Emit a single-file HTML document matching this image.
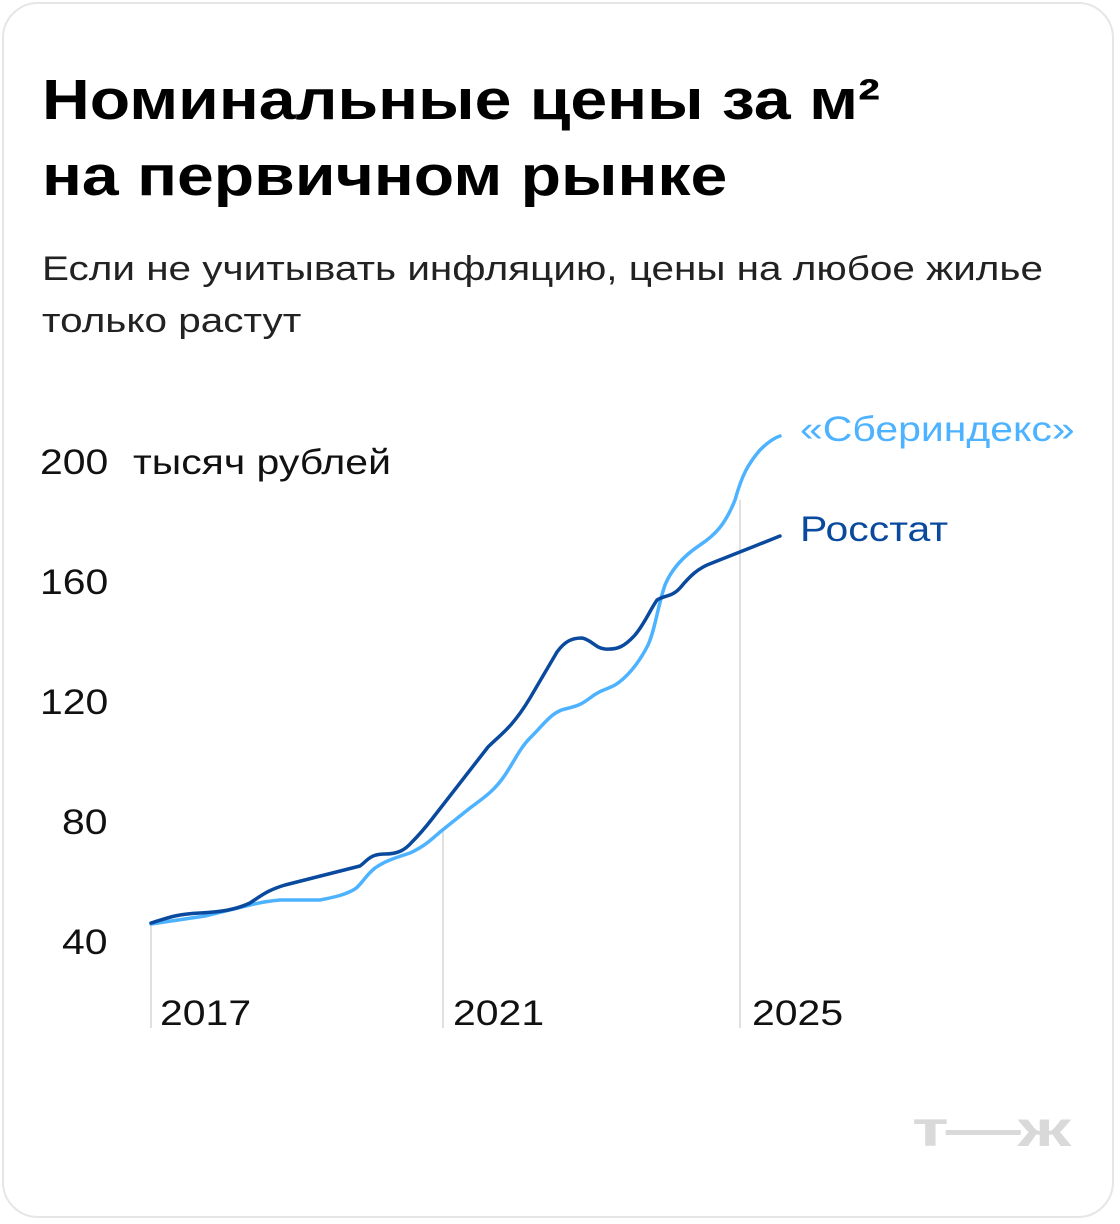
<!DOCTYPE html>
<html><head><meta charset="utf-8"><style>
html,body{margin:0;padding:0;background:#fff;}
body{width:1120px;height:1224px;position:relative;font-family:"Liberation Sans",sans-serif;overflow:hidden;}
.card{position:absolute;left:2px;top:2px;width:1112px;height:1216px;border:2px solid #e6e6e6;border-radius:36px;box-sizing:border-box;}
h1{position:absolute;left:42px;top:62px;margin:0;font-size:57px;line-height:76px;font-weight:bold;color:#000;transform:scaleX(1.16);transform-origin:left top;white-space:nowrap;}
.sub{position:absolute;left:42px;top:243px;font-size:34px;line-height:52px;color:#222;transform:scaleX(1.19);transform-origin:left top;white-space:nowrap;}
.t{position:absolute;font-size:35px;color:#111;transform:scaleX(1.17);transform-origin:left top;white-space:nowrap;}
</style></head><body>
<div class="card"></div>
<h1>Номинальные цены за м²<br>на первичном рынке</h1>
<div class="sub">Если не учитывать инфляцию, цены на любое жилье<br>только растут</div>
<svg width="1120" height="1224" style="position:absolute;left:0;top:0">
<g stroke="#d6d6d6" stroke-width="1.5">
<line x1="151" y1="925" x2="151" y2="1028"/>
<line x1="443" y1="830" x2="443" y2="1028"/>
<line x1="740" y1="500" x2="740" y2="1028"/>
</g>
<path fill="none" stroke="#4db2ff" stroke-width="3.5" stroke-linejoin="round" stroke-linecap="round"
d="M151,924 L205,916 L250,905 C262,902 268,901 280,900 L320,900 C335,897 345,895 355,889 C362,884 365,876 375,868 C385,861 395,858 410,853 C425,846 432,839 440,832 L470,808 C485,797 495,790 505,775 C515,760 520,748 530,738 C545,723 552,712 565,709 C578,706 582,704 590,698 C600,690 606,690 615,685 C625,679 638,665 648,645 C655,630 658,605 665,585 C672,568 685,555 700,545 C715,535 725,525 735,500 C742,475 748,464 760,450 C768,442 774,438 780,436"/>
<path fill="none" stroke="#0a4a9e" stroke-width="3.5" stroke-linejoin="round" stroke-linecap="round"
d="M151,923 C165,919 175,914 200,913 C220,912 235,910 250,903 C262,895 268,890 285,885 L360,866 C368,860 370,854 385,854 C398,854 405,850 412,842 C420,834 425,828 432,819 L488,747 C500,735 512,728 530,698 L557,652 C565,641 572,638 582,638 C592,640 595,648 605,649 C618,650 625,646 635,635 C645,623 650,610 657,600 C665,595 672,597 680,588 C690,576 698,568 712,563 C725,558 740,552 755,546 L780,536"/>
</svg>
<div class="t" style="left:40px;top:443px">200</div>
<div class="t" style="left:133px;top:443px">тысяч рублей</div>
<div class="t" style="left:40px;top:563px">160</div>
<div class="t" style="left:40px;top:683px">120</div>
<div class="t" style="left:62px;top:803px">80</div>
<div class="t" style="left:62px;top:923px">40</div>
<div class="t" style="left:160px;top:994px">2017</div>
<div class="t" style="left:453px;top:994px">2021</div>
<div class="t" style="left:752px;top:994px">2025</div>
<div class="t" style="left:800px;top:410px;color:#4db2ff">«Сбериндекс»</div>
<div class="t" style="left:800px;top:510px;color:#0a4a9e">Росстат</div>
<div style="position:absolute;left:912px;top:1100px;font-size:50px;font-weight:bold;color:#d9d9d9;letter-spacing:-2px;transform:scaleX(1.5);transform-origin:left top">т—ж</div>
</body></html>
